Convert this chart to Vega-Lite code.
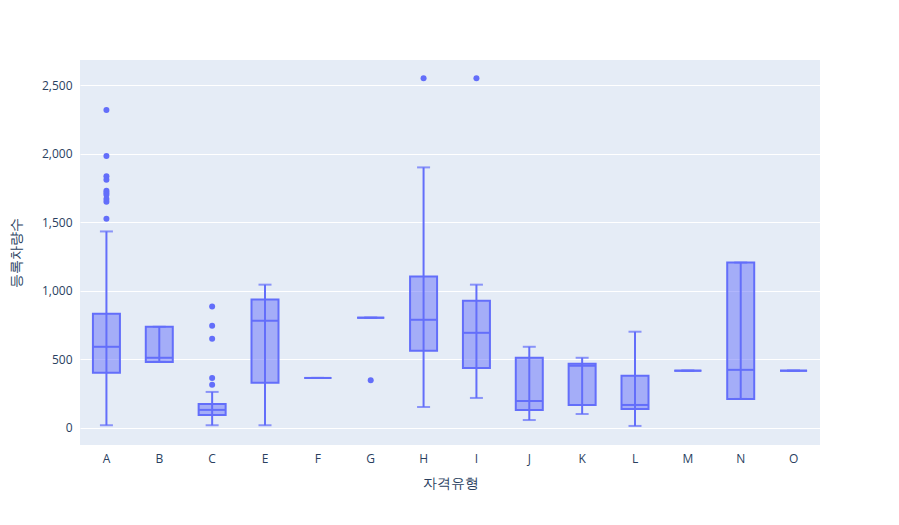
{
  "$schema": "https://vega.github.io/schema/vega-lite/v6.json",
  "width": 740,
  "height": 385,
  "autosize": {"type": "none"},
  "padding": {"left": 80, "top": 60, "right": 79, "bottom": 80},
  "background": "white",
  "config": {
    "view": {"fill": "#E5ECF6", "stroke": null},
    "font": "Open Sans",
    "axis": {"labelColor": "#2a3f5f", "titleColor": "#2a3f5f", "labelFontSize": 12, "titleFontSize": 14, "titleFontWeight": "normal", "domain": false, "ticks": false, "gridColor": "white", "gridWidth": 1}
  },
  "datasets": {
    "boxes": [
      {"g": "A", "lo": 20, "q1": 402, "med": 592, "q3": 833, "hi": 1433},
      {"g": "B", "lo": 482, "q1": 482, "med": 512, "q3": 738, "hi": 738},
      {"g": "C", "lo": 20, "q1": 95, "med": 132, "q3": 175, "hi": 263},
      {"g": "E", "lo": 20, "q1": 329, "med": 782, "q3": 936, "hi": 1045},
      {"g": "F", "lo": 365, "q1": 365, "med": 365, "q3": 365, "hi": 365},
      {"g": "G", "lo": 804, "q1": 804, "med": 804, "q3": 804, "hi": 804},
      {"g": "H", "lo": 153, "q1": 563, "med": 789, "q3": 1104, "hi": 1900},
      {"g": "I", "lo": 219, "q1": 438, "med": 694, "q3": 928, "hi": 1045},
      {"g": "J", "lo": 58, "q1": 132, "med": 197, "q3": 512, "hi": 592},
      {"g": "K", "lo": 102, "q1": 168, "med": 453, "q3": 468, "hi": 512},
      {"g": "L", "lo": 15, "q1": 139, "med": 168, "q3": 380, "hi": 702},
      {"g": "M", "lo": 418, "q1": 418, "med": 418, "q3": 418, "hi": 418},
      {"g": "N", "lo": 212, "q1": 212, "med": 424, "q3": 1206, "hi": 1206},
      {"g": "O", "lo": 418, "q1": 418, "med": 418, "q3": 418, "hi": 418}
    ],
    "outliers": [
      {"g": "A", "v": 2318}, {"g": "A", "v": 1983}, {"g": "A", "v": 1835}, {"g": "A", "v": 1810},
      {"g": "A", "v": 1730}, {"g": "A", "v": 1715}, {"g": "A", "v": 1700}, {"g": "A", "v": 1670},
      {"g": "A", "v": 1650}, {"g": "A", "v": 1525},
      {"g": "C", "v": 885}, {"g": "C", "v": 745}, {"g": "C", "v": 650}, {"g": "C", "v": 365}, {"g": "C", "v": 315},
      {"g": "G", "v": 348},
      {"g": "H", "v": 2550},
      {"g": "I", "v": 2550}
    ]
  },
  "encoding": {
    "x": {"field": "g", "type": "nominal", "title": "자격유형",
      "scale": {"domain": ["A","B","C","E","F","G","H","I","J","K","L","M","N","O"]},
      "axis": {"labelAngle": 0, "grid": false, "labelPadding": 8, "titlePadding": 12}}
  },
  "layer": [
    {
      "data": {"name": "boxes"},
      "layer": [
        {
          "mark": {"type": "rule", "color": "#636EFA", "strokeWidth": 2},
          "encoding": {
            "y": {"field": "lo", "type": "quantitative", "title": "등록차량수",
              "scale": {"domain": [-124, 2683], "nice": false, "zero": false},
              "axis": {"values": [0, 500, 1000, 1500, 2000, 2500], "labelPadding": 8, "titlePadding": 18}},
            "y2": {"field": "hi"}
          }
        },
        {
          "mark": {"type": "tick", "color": "#636EFA", "size": 13, "thickness": 2},
          "encoding": {"y": {"field": "lo", "type": "quantitative"}}
        },
        {
          "mark": {"type": "tick", "color": "#636EFA", "size": 13, "thickness": 2},
          "encoding": {"y": {"field": "hi", "type": "quantitative"}}
        },
        {
          "mark": {"type": "bar", "size": 27, "fill": "#636EFA", "fillOpacity": 0.5, "stroke": "#636EFA", "strokeWidth": 2},
          "encoding": {"y": {"field": "q1", "type": "quantitative"}, "y2": {"field": "q3"}}
        },
        {
          "mark": {"type": "tick", "color": "#636EFA", "size": 27, "thickness": 2, "opacity": 1},
          "encoding": {"y": {"field": "med", "type": "quantitative"}}
        }
      ]
    },
    {
      "data": {"name": "outliers"},
      "mark": {"type": "circle", "color": "#636EFA", "size": 36, "opacity": 1},
      "encoding": {"y": {"field": "v", "type": "quantitative"}}
    }
  ]
}
